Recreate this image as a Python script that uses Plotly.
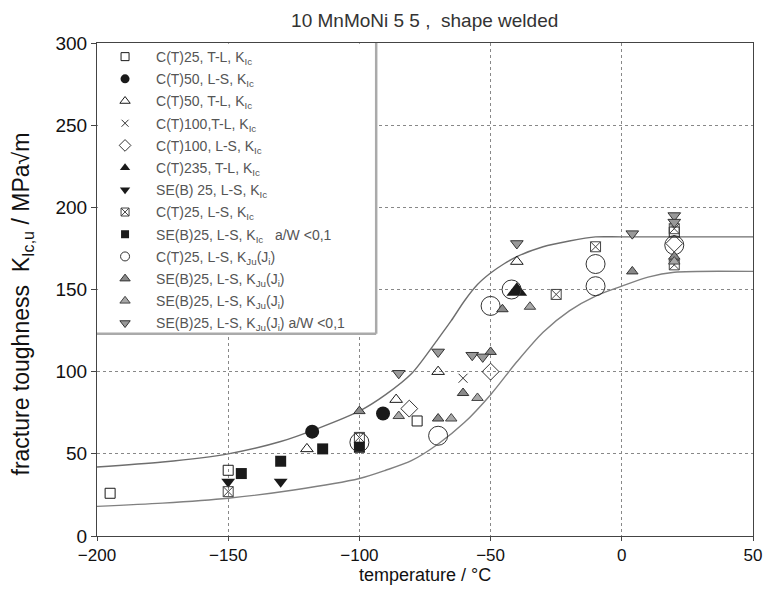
import plotly.graph_objects as go

# ---- fitted curves ----
upper_T = [-200, -175, -150, -130, -115, -100, -90, -80, -70, -65, -60, -55, -50, -45, -40, -30, -20, -10, 0, 50]
upper_K = [42, 45, 50, 57.5, 66, 76, 86, 99, 120, 131, 143, 153, 160, 165.5, 170, 176, 179.5, 182, 182, 182]
lower_T = [-200, -175, -150, -125, -100, -90, -80, -70, -60, -50, -40, -30, -20, -10, 0, 10, 20, 50]
lower_K = [18, 20, 23, 28, 35, 40, 46, 56, 69, 86, 106, 124, 137, 146, 152, 157.5, 160.5, 161]

# ---- data series ----
ct25_tl_T = [-195, -150, -78, 20]
ct25_tl_K = [26, 40, 70, 185]
ct50_ls_T = [-118, -91]
ct50_ls_K = [63.5, 74.5]
ct50_tl_T = [-120, -86, -70, -40]
ct50_tl_K = [53, 83, 100, 167]
ct100_tl_T = [-60.5]
ct100_tl_K = [96]
ct100_ls_T = [-81, -50, 20]
ct100_ls_K = [77.5, 100, 178]
ct235_tl_T = [-40]
ct235_tl_K = [149]
seb25_ls_T = [-150, -130]
seb25_ls_K = [33, 33]
ct25_ls_T = [-150, -100, -25, -10, 20, 20]
ct25_ls_K = [27, 60, 147, 176, 187, 165]
seb25_aw_T = [-145, -130, -114, -100]
seb25_aw_K = [38, 45.5, 53, 54]
ct25_kj_T = [-100, -70, -50, -42, -10, -10, 20]
ct25_kj_K = [57, 61, 140, 150, 165.5, 152, 177]
seb_kj1_T = [-100, -70, -60.5, -50, -45.5, 4, 20]
seb_kj1_K = [76, 71.5, 87, 112, 138, 161, 170]
seb_kj2_T = [-85, -65, -55, -35, 20]
seb_kj2_K = [73, 71.5, 84, 139.5, 167]
seb_kj_aw_T = [-85, -70, -57, -53, -40, 4, 20, 20]
seb_kj_aw_K = [99, 112, 110, 109, 178, 184, 195, 191]

labels = [
    "C(T)25, T-L, K<sub>Ic</sub>",
    "C(T)50, L-S, K<sub>Ic</sub>",
    "C(T)50, T-L, K<sub>Ic</sub>",
    "C(T)100,T-L, K<sub>Ic</sub>",
    "C(T)100, L-S, K<sub>Ic</sub>",
    "C(T)235, T-L, K<sub>Ic</sub>",
    "SE(B) 25, L-S, K<sub>Ic</sub>",
    "C(T)25, L-S, K<sub>Ic</sub>",
    "SE(B)25, L-S, K<sub>Ic</sub>   a/W <0,1",
    "C(T)25, L-S, K<sub>Ju</sub>(J<sub>i</sub>)",
    "SE(B)25, L-S, K<sub>Ju</sub>(J<sub>i</sub>)",
    "SE(B)25, L-S, K<sub>Ju</sub>(J<sub>i</sub>)",
    "SE(B)25, L-S, K<sub>Ju</sub>(J<sub>i</sub>) a/W <0,1",
]

fig = go.Figure()

# curves
fig.add_trace(go.Scatter(x=upper_T, y=upper_K, mode="lines",
                         line=dict(color="#6e6e6e", width=1.4, shape="spline", smoothing=0.8),
                         showlegend=False, hoverinfo="skip"))
fig.add_trace(go.Scatter(x=lower_T, y=lower_K, mode="lines",
                         line=dict(color="#808080", width=1.4, shape="spline", smoothing=0.8),
                         showlegend=False, hoverinfo="skip"))

BK = "#1a1a1a"
series = [
    (ct25_tl_T, ct25_tl_K, dict(symbol="square-open", size=10, color=BK, line=dict(width=1)), 8),
    (ct50_ls_T, ct50_ls_K, dict(symbol="circle", size=14, color=BK), 9),
    (ct50_tl_T, ct50_tl_K, dict(symbol="triangle-up-open", size=11, color=BK, line=dict(width=1)), 9),
    (ct100_tl_T, ct100_tl_K, dict(symbol="x-thin-open", size=9, color="#333", line=dict(width=1, color="#333")), 7),
    (ct100_ls_T, ct100_ls_K, dict(symbol="diamond-open", size=13, color="#333", line=dict(width=1)), 9),
    (ct235_tl_T, ct235_tl_K, dict(symbol="triangle-up", size=18, color=BK), 9),
    (seb25_ls_T, seb25_ls_K, dict(symbol="triangle-down", size=12, color=BK), 9),
    (ct25_ls_T, ct25_ls_K, dict(symbol="square-x-open", size=10, color="#444", line=dict(width=1)), 8),
    (seb25_aw_T, seb25_aw_K, dict(symbol="square", size=11, color=BK), 8),
    (ct25_kj_T, ct25_kj_K, dict(symbol="circle-open", size=19, color="#333", line=dict(width=1)), 9),
    (seb_kj1_T, seb_kj1_K, dict(symbol="triangle-up", size=10, color="#8a8a8a", line=dict(width=1, color="#333")), 9),
    (seb_kj2_T, seb_kj2_K, dict(symbol="triangle-up", size=10, color="#a8a8a8", line=dict(width=1, color="#444")), 9),
    (seb_kj_aw_T, seb_kj_aw_K, dict(symbol="triangle-down", size=11, color="#999999", line=dict(width=1, color="#333")), 9),
]
for i, ((xs, ys, mk, lsz), name) in enumerate(zip(series, labels)):
    fig.add_trace(go.Scatter(x=xs, y=ys, mode="markers", name=name, marker=mk, showlegend=False))
    lmk = dict(mk)
    lmk["size"] = lsz
    fig.add_trace(go.Scatter(x=[None], y=[None], mode="markers", name=name, marker=lmk,
                             legendgroup=f"g{i}", showlegend=True))

# legend box background
fig.add_shape(type="rect", xref="x", yref="y", x0=-199.6, x1=-93.6, y0=123, y1=299.5,
              fillcolor="white", line=dict(width=0), layer="above")
fig.add_shape(type="line", xref="x", yref="y", x0=-93.6, x1=-93.6, y0=123, y1=300,
              line=dict(color="#aaaaaa", width=2.5), layer="above")
fig.add_shape(type="line", xref="x", yref="y", x0=-200, x1=-93.6, y0=123, y1=123,
              line=dict(color="#aaaaaa", width=2.5), layer="above")

# axis titles as annotations (precise placement)
fig.add_annotation(text="fracture toughness  K<sub>Ic,u</sub> / MPa√m", xref="paper", yref="paper",
                   x=-0.114, y=0.47, xanchor="center", yanchor="middle", textangle=-90, showarrow=False,
                   font=dict(size=23, color="#111"))
fig.add_annotation(text="temperature / °C", xref="paper", yref="paper",
                   x=0.5, y=-50 / 493, xanchor="center", yanchor="bottom", showarrow=False, borderpad=0,
                   font=dict(size=18, color="#111"))

# page body has an 8px margin: figure is sized so the whole page fits the 775x594 window
fig.update_layout(
    width=759, height=578,
    margin=dict(l=89, r=5, t=35, b=50),
    paper_bgcolor="white", plot_bgcolor="white",
    font=dict(family="Liberation Sans, Arial, sans-serif", color="#222"),
    title=dict(text="10 MnMoNi 5 5 ,  shape welded", x=0.549, xanchor="center", y=0.979, yanchor="middle",
               font=dict(size=19, color="#333")),
    legend=dict(x=-0.0045, y=1.004, xanchor="left", yanchor="top", bgcolor="rgba(0,0,0,0)",
                font=dict(size=14, color="#555"), itemsizing="trace", tracegroupgap=1, itemwidth=52,
                maxheight=560),
    xaxis=dict(range=[-200, 50], dtick=50, tick0=-200, showline=True, mirror=True, linecolor="#444", linewidth=1,
               ticks="outside", ticklen=4, tickcolor="#444", showgrid=True, gridcolor="#888", griddash="dot",
               zeroline=False, tickfont=dict(size=17, color="#111"), ticklabeloverflow="allow"),
    yaxis=dict(range=[0, 300], dtick=50, showline=True, mirror=True, linecolor="#444", linewidth=1,
               ticks="outside", ticklen=5, tickcolor="#444", showgrid=True, gridcolor="#888", griddash="dot",
               zeroline=False, tickfont=dict(size=19, color="#111")),
)

fig.write_html("out.html")
